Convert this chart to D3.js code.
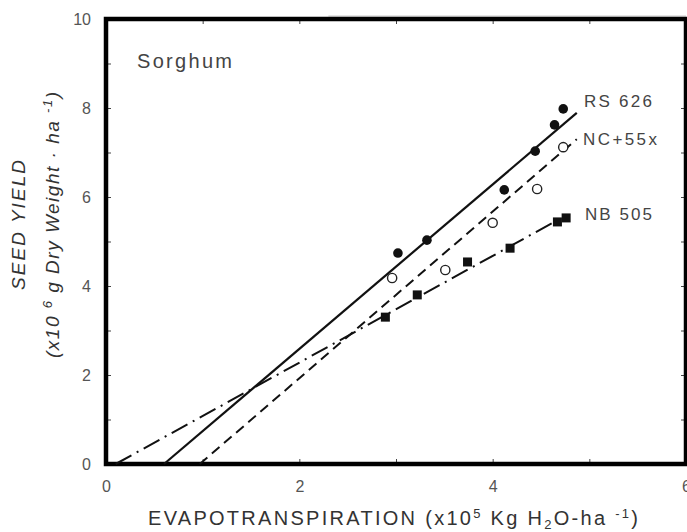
<!DOCTYPE html>
<html>
<head>
<meta charset="utf-8">
<script src="https://cdn.jsdelivr.net/npm/d3@7"></script>
<style>
  body { margin: 0; background: #fff; }
  svg { font-family: "Liberation Sans", Arial, sans-serif; }
</style>
</head>
<body>
<div id="chart"></div>
<script>
// seed yield vs ET, sorghum hybrids
var rsET    = [3.02, 3.32, 4.12, 4.44, 4.64, 4.73];
var rsYield = [4.74, 5.03, 6.16, 7.03, 7.62, 7.98];
var ncET    = [2.96, 3.51, 4.00, 4.46, 4.73];
var ncYield = [4.18, 4.36, 5.42, 6.18, 7.12];
var nbET    = [2.89, 3.22, 3.74, 4.18, 4.67, 4.76];
var nbYield = [3.30, 3.80, 4.54, 4.85, 5.44, 5.53];

// fitted lines, start and end points [x, y]
var rsLine = [[0.60, 0], [4.87, 7.89]];
var ncLine = [[0.97, 0], [4.87, 7.30]];
var nbLine = [[0.10, 0], [4.67, 5.48]];

var lineLabels = ['RS 626', 'NC+55x', 'NB 505'];
var xTickVals = [0, 1, 2, 3, 4, 5, 6];
var yTickVals = [0, 1, 2, 3, 4, 5, 6, 7, 8, 9, 10];

var width = 687,
    height = 532;
var pLeft = 106, pRight = 686, pTop = 19, pBottom = 464;

var svg = d3.select('#chart').append('svg')
            .attr('width', width)
            .attr('height', height);

var x = d3.scaleLinear().domain([0, 6]).range([pLeft, pRight]);
var y = d3.scaleLinear().domain([0, 10]).range([pBottom, pTop]);

// axes, ticks pointing inward
function fmt(d) { return d % 2 == 0 ? d : ''; }

var gx = svg.append('g').attr('transform', 'translate(0,' + pBottom + ')')
  .call(d3.axisBottom(x).tickValues(xTickVals).tickSize(-5).tickPadding(17).tickFormat(fmt));
var gy = svg.append('g').attr('transform', 'translate(' + pLeft + ',0)')
  .call(d3.axisLeft(y).tickValues(yTickVals).tickSize(-5).tickPadding(15).tickFormat(fmt));
var gt = svg.append('g').attr('transform', 'translate(0,' + pTop + ')')
  .call(d3.axisTop(x).tickValues(xTickVals).tickSize(-5).tickFormat(''));
var gr = svg.append('g').attr('transform', 'translate(' + pRight + ',0)')
  .call(d3.axisRight(y).tickValues(yTickVals).tickSize(-5).tickFormat(''));

[gx, gy, gt, gr].forEach(function(g) {
  g.attr('font-size', 16).attr('font-family', '"Liberation Sans", Arial, sans-serif');
  g.select('.domain').remove();
  g.selectAll('line').attr('stroke', '#444').attr('stroke-width', 1);
  g.selectAll('text').attr('fill', '#555');
});

// faint scan line above the frame
svg.append('line')
   .attr('x1', x(2.3)).attr('x2', x(6)).attr('y1', y(10) - 3).attr('y2', y(10) - 3)
   .attr('stroke', '#ddd').attr('stroke-width', 1.5);

// thick frame
svg.append('rect')
   .attr('x', x(0)).attr('y', y(10))
   .attr('width', x(6) - x(0)).attr('height', y(0) - y(10))
   .attr('fill', 'none').attr('stroke', '#000').attr('stroke-width', 4.5);

// regression lines
var line = d3.line().x(function(d) { return x(d[0]); }).y(function(d) { return y(d[1]); });
svg.append('path').attr('d', line(rsLine))
   .attr('fill', 'none').attr('stroke', '#111').attr('stroke-width', 2.2);
svg.append('path').attr('d', line(ncLine))
   .attr('fill', 'none').attr('stroke', '#111').attr('stroke-width', 2)
   .attr('stroke-dasharray', '10,6');
svg.append('path').attr('d', line(nbLine))
   .attr('fill', 'none').attr('stroke', '#111').attr('stroke-width', 2)
   .attr('stroke-dasharray', '18,6,2,6');

// points
svg.selectAll('.rs').data(rsET).enter().append('circle')
   .attr('cx', function(d) { return x(d); })
   .attr('cy', function(d, i) { return y(rsYield[i]); })
   .attr('r', 4.8).attr('fill', '#111');
svg.selectAll('.nc').data(ncET).enter().append('circle')
   .attr('cx', function(d) { return x(d); })
   .attr('cy', function(d, i) { return y(ncYield[i]); })
   .attr('r', 4.6).attr('fill', '#fff').attr('stroke', '#222').attr('stroke-width', 1.4);
svg.selectAll('.nb').data(nbET).enter().append('rect')
   .attr('x', function(d) { return x(d) - 4.5; })
   .attr('y', function(d, i) { return y(nbYield[i]) - 4.5; })
   .attr('width', 9).attr('height', 9).attr('fill', '#111');

// series labels
var labelPos = [[584, 107, 68], [583, 145, 74], [585, 220, 67]];
svg.selectAll('.lab').data(lineLabels).enter().append('text')
   .attr('x', function(d, i) { return labelPos[i][0]; })
   .attr('y', function(d, i) { return labelPos[i][1]; })
   .attr('textLength', function(d, i) { return labelPos[i][2]; })
   .attr('lengthAdjust', 'spacing')
   .attr('font-size', 17).attr('fill', '#444')
   .text(function(d) { return d; });

svg.append('text').attr('x', 137).attr('y', 68)
   .attr('textLength', 95).attr('lengthAdjust', 'spacing')
   .attr('font-size', 20).attr('fill', '#444').text('Sorghum');

// x title
var xt = svg.append('text').attr('x', 148).attr('y', 525)
   .attr('textLength', 490).attr('lengthAdjust', 'spacing')
   .attr('font-size', 20).attr('fill', '#333');
xt.append('tspan').text('EVAPOTRANSPIRATION (x10');
xt.append('tspan').attr('dy', -7).attr('font-size', 13).text('5');
xt.append('tspan').attr('dy', 7).text(' Kg H');
xt.append('tspan').attr('dy', 4).attr('font-size', 13).text('2');
xt.append('tspan').attr('dy', -4).text('O-ha ');
xt.append('tspan').attr('dy', -7).attr('font-size', 13).text('-1');
xt.append('tspan').attr('dy', 7).text(')');

// y title, two lines
svg.append('text').attr('transform', 'translate(25,225) rotate(-90)')
   .attr('text-anchor', 'middle').attr('font-size', 19).attr('font-style', 'italic')
   .attr('fill', '#333').attr('textLength', 130).attr('lengthAdjust', 'spacing')
   .text('SEED YIELD');
var yt = svg.append('text').attr('transform', 'translate(59,225) rotate(-90)')
   .attr('text-anchor', 'middle').attr('font-size', 19).attr('font-style', 'italic')
   .attr('fill', '#333').attr('textLength', 266).attr('lengthAdjust', 'spacing');
yt.append('tspan').text('(x10 ');
yt.append('tspan').attr('dy', -7).attr('font-size', 13).text('6');
yt.append('tspan').attr('dy', 7).text(' g Dry Weight · ha ');
yt.append('tspan').attr('dy', -7).attr('font-size', 13).text('-1');
yt.append('tspan').attr('dy', 7).text(')');
</script>
</body>
</html>
